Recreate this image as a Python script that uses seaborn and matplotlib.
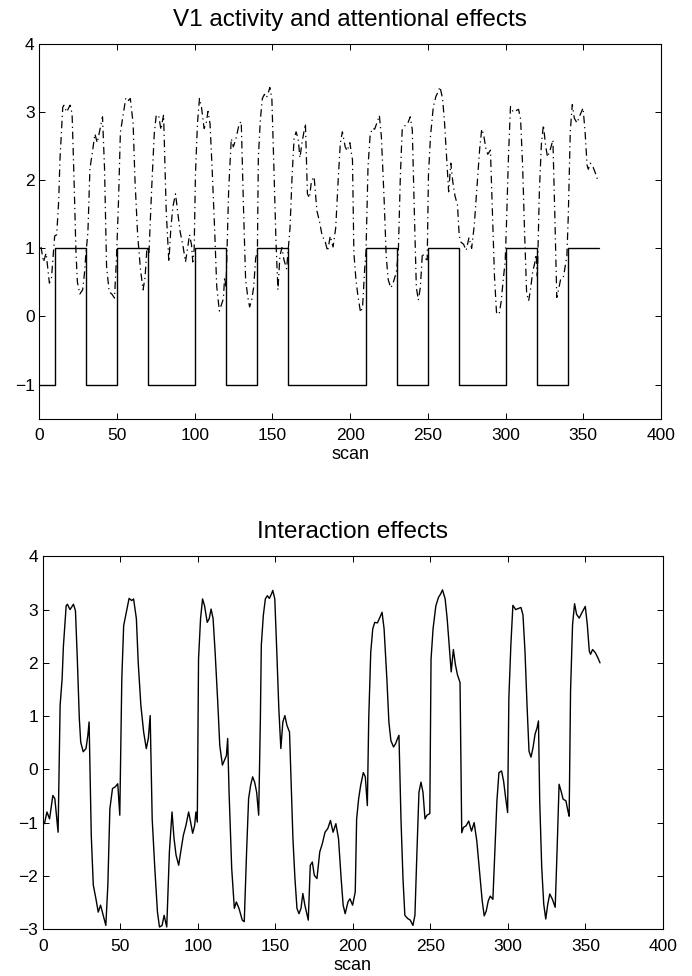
import numpy as np
import pandas as pd
import matplotlib
matplotlib.use("Agg")
import matplotlib.pyplot as plt
import seaborn as sns

# interaction (V1 x attention), at these scans
scan = [1.0, 2.6, 4.3, 6.4, 7.7, 9.8, 11.1, 12.4, 13.2, 15.0, 15.8, 17.5, 19.7, 21.0, 22.2,
        23.5, 24.4, 26.0, 27.8, 29.0, 29.8, 31.2, 32.5, 34.2, 35.7, 37.2, 38.9, 40.6, 41.9,
        43.2, 44.9, 46.6, 48.3, 49.6, 50.9, 52.1, 53.8, 55.6, 57.3, 58.5, 60.3, 61.5, 63.2,
        65.0, 66.7, 68.0, 69.2, 70.5, 72.2, 73.9, 75.2, 76.9, 78.2, 79.9, 81.6, 83.3, 84.6,
        85.9, 87.6, 88.9, 90.6, 92.3, 94.0, 95.3, 96.6, 97.9, 98.7, 99.6, 100.4, 101.7, 103.0,
        104.3, 106.0, 107.3, 108.5, 109.8, 111.1, 112.8, 114.1, 115.8, 117.1, 118.4, 119.2,
        120.1, 121.8, 123.5, 124.8, 126.5, 128.6, 129.9, 131.4, 132.7, 134.0, 135.3, 136.6,
        137.9, 139.2, 140.3, 140.9, 142.2, 143.5, 144.8, 146.1, 147.4, 148.3, 149.6, 150.9,
        152.2, 153.5, 154.8, 156.1, 157.4, 159.1, 161.3, 162.6, 163.9, 165.2, 166.5, 167.7,
        169.0, 171.2, 172.5, 173.8, 175.1, 176.8, 178.6, 180.3, 182.0, 183.8, 185.5, 187.2,
        189.0, 190.7, 192.4, 193.7, 195.0, 196.8, 198.1, 199.8, 201.5, 202.4, 203.7, 205.0,
        206.7, 208.0, 209.3, 210.2, 211.5, 212.8, 214.1, 215.8, 217.5, 218.8, 220.1, 221.9,
        223.2, 224.5, 226.2, 227.5, 228.8, 229.7, 231.0, 232.3, 233.5, 235.3, 237.0, 238.7,
        240.0, 241.3, 242.6, 243.9, 245.2, 246.5, 247.8, 249.6, 250.4, 251.7, 253.5, 255.2,
        256.5, 257.8, 259.5, 260.8, 262.1, 263.4, 264.8, 266.1, 267.4, 269.1, 270.2, 271.3,
        273.0, 274.7, 276.5, 278.2, 279.9, 281.6, 283.4, 284.7, 286.0, 287.3, 288.6, 290.3,
        291.6, 292.9, 294.2, 295.9, 297.2, 298.5, 299.8, 300.6, 301.9, 303.2, 305.0, 306.7,
        308.4, 309.7, 311.0, 312.3, 313.6, 314.9, 316.2, 317.5, 318.8, 319.7, 320.5, 321.8,
        323.1, 324.4, 325.7, 327.0, 328.7, 330.5, 331.7, 333.0, 334.3, 335.6, 337.4, 338.7,
        339.5, 340.4, 341.7, 343.0, 344.3, 346.0, 347.7, 349.9, 351.2, 352.5, 353.3, 354.6,
        356.4, 358.1, 359.4]
ppi = [-1.02, -0.80, -0.93, -0.49, -0.55, -1.18, 1.20, 1.70, 2.30, 3.07, 3.10, 3.00, 3.10, 2.98, 2.07,
       0.95, 0.51, 0.33, 0.39, 0.64, 0.89, -1.24, -2.17, -2.43, -2.68, -2.55, -2.74, -2.93, -2.17,
       -0.74, -0.36, -0.33, -0.27, -0.86, 1.70, 2.70, 2.95, 3.21, 3.17, 3.20, 2.83, 2.00, 1.20,
       0.70, 0.39, 0.58, 1.01, -0.93, -1.86, -2.68, -2.96, -2.93, -2.74, -2.96, -1.55, -0.80, -1.30,
       -1.61, -1.80, -1.55, -1.24, -1.05, -0.80, -0.99, -1.20, -1.05, -0.80, -0.99, 2.07, 2.83, 3.20,
       3.07, 2.76, 2.83, 3.01, 2.83, 2.20, 1.26, 0.45, 0.08, 0.17, 0.26, 0.58,
       -0.43, -1.86, -2.61, -2.49, -2.61, -2.83, -2.86, -1.55, -0.55, -0.30, -0.14, -0.24,
       -0.43, -0.86, 0.95, 2.33, 2.89, 3.20, 3.26, 3.21, 3.29, 3.36, 3.20, 2.20,
       1.14, 0.39, 0.89, 1.01, 0.83, 0.70, -1.30, -2.05, -2.61, -2.71, -2.61, -2.33,
       -2.55, -2.83, -1.80, -1.74, -1.99, -2.05, -1.55, -1.39, -1.18, -1.11, -0.96, -1.18,
       -1.02, -1.30, -2.05, -2.55, -2.71, -2.49, -2.43, -2.55, -2.30, -0.93, -0.55, -0.30,
       -0.06, -0.14, -0.68, 0.95, 2.20, 2.64, 2.76, 2.75, 2.86, 2.95, 2.64, 1.70,
       0.89, 0.54, 0.42, 0.48, 0.58, 0.64, -0.93, -2.05, -2.74, -2.80, -2.83, -2.93,
       -2.74, -1.55, -0.43, -0.24, -0.43, -0.93, -0.86, -0.83, 2.07, 2.64, 3.07, 3.23,
       3.29, 3.37, 3.20, 2.83, 2.33, 1.83, 2.25, 1.97, 1.78, 1.63, -1.19, -1.09,
       -1.06, -0.97, -1.16, -1.00, -1.34, -1.90, -2.47, -2.75, -2.66, -2.47, -2.38, -2.44,
       -1.53, -0.59, -0.06, -0.03, -0.22, -0.53, -0.81, 1.34, 2.34, 3.08, 3.00, 3.02,
       3.04, 2.90, 2.22, 1.22, 0.34, 0.23, 0.41, 0.66, 0.78, 0.91, -0.59, -1.84,
       -2.53, -2.81, -2.53, -2.34, -2.44, -2.59, -1.53, -0.28, -0.41, -0.56, -0.59, -0.78,
       -0.88, 1.47, 2.72, 3.11, 2.91, 2.84, 2.94, 3.06, 2.72, 2.22, 2.16, 2.25,
       2.19, 2.09, 2.00]

# attention blocks: level holds from each edge to the next
block_edges = [0, 10, 30, 50, 70, 100, 120, 140, 160, 210, 230, 250, 270, 300, 320, 340, 360]
block_level = [-1, 1, -1, 1, -1, 1, -1, 1, -1, 1, -1, 1, -1, 1, -1, 1]

sns.set_style("ticks")
plt.rcParams['font.family'] = ['Liberation Sans', 'DejaVu Sans']
plt.rcParams['text.color'] = 'black'

att_at_scan = np.array(block_level)[np.searchsorted(block_edges, scan, side='right') - 1]
df = pd.DataFrame({"scan": scan, "ppi": ppi})
df["v1"] = df["ppi"] * att_at_scan
att = pd.DataFrame({"scan": block_edges, "level": block_level + [block_level[-1]]})

fig = plt.figure(figsize=(6.92, 9.76), dpi=100)
ax1 = fig.add_axes([0.057, 0.571, 0.898, 0.384])
ax2 = fig.add_axes([0.062, 0.048, 0.896, 0.382])

sns.lineplot(data=df, x="scan", y="v1", ax=ax1, color="black", linewidth=0.9,
             linestyle=(0, (6, 3, 1, 3)), estimator=None, sort=False)
sns.lineplot(data=att, x="scan", y="level", ax=ax1, color="black", linewidth=1.0,
             drawstyle="steps-post", estimator=None, sort=False)
sns.lineplot(data=df, x="scan", y="ppi", ax=ax2, color="black", linewidth=1.0,
             estimator=None, sort=False)

for ax, title, ylim, yticks in [(ax1, "V1 activity and attentional effects", (-1.5, 4), range(-1, 5)),
                                (ax2, "Interaction effects", (-3, 4), range(-3, 5))]:
    ax.set_xlim(0, 400)
    ax.set_ylim(*ylim)
    ax.set_xticks(range(0, 401, 50))
    ax.set_yticks(list(yticks))
    ax.set_title(title, fontsize=17.5, pad=13, color="black")
    ax.set_xlabel("scan", fontsize=13, labelpad=2, color="black")
    ax.set_ylabel("")
    ax.tick_params(direction="in", top=True, right=True, length=4, width=0.7,
                   labelsize=12.5, colors="black")
    ax.tick_params(axis="x", pad=7)
    for s in ax.spines.values():
        s.set_visible(True)
        s.set_linewidth(0.8)
        s.set_color("black")

fig.savefig("out.png", dpi=100)
